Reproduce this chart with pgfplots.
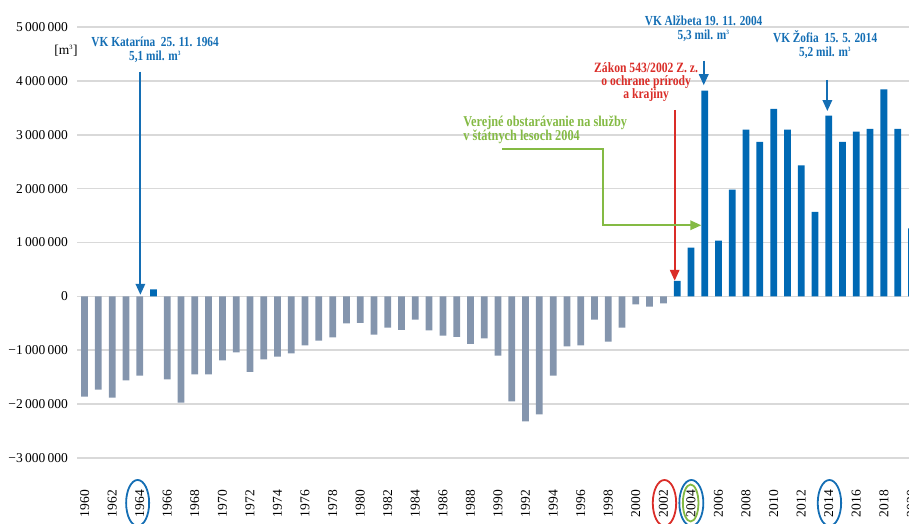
\documentclass[border=0pt]{standalone}
\usepackage{fontspec}
\setmainfont{Liberation Serif}
\newfontfamily\annfont[FakeStretch=0.82]{Liberation Serif}
\usepackage{pgfplots}
\pgfplotsset{compat=1.18}
\usepackage{pgfplotstable}
\usetikzlibrary{arrows.meta}
\definecolor{barGray}{RGB}{132,149,173}
\definecolor{barBlue}{RGB}{0,105,180}
\definecolor{annBlue}{RGB}{20,110,180}
\definecolor{annRed}{RGB}{218,45,40}
\definecolor{annGreen}{RGB}{132,186,68}
\definecolor{gridgray}{RGB}{217,217,217}

\pgfplotstableread{
year value
1960 -1860000
1961 -1730000
1962 -1880000
1963 -1560000
1964 -1470000
1966 -1540000
1967 -1970000
1968 -1450000
1969 -1450000
1970 -1190000
1971 -1040000
1972 -1400000
1973 -1170000
1974 -1120000
1975 -1060000
1976 -910000
1977 -820000
1978 -760000
1979 -500000
1980 -490000
1981 -710000
1982 -580000
1983 -620000
1984 -430000
1985 -630000
1986 -730000
1987 -750000
1988 -880000
1989 -780000
1990 -1100000
1991 -1950000
1992 -2320000
1993 -2190000
1994 -1470000
1995 -930000
1996 -910000
1997 -430000
1998 -840000
1999 -580000
2000 -150000
2001 -190000
2002 -130000
}\negdata

\pgfplotstableread{
year value
1965 130000
2003 290000
2004 905000
2005 3820000
2006 1035000
2007 1980000
2008 3095000
2009 2870000
2010 3480000
2011 3095000
2012 2430000
2013 1570000
2014 3355000
2015 2870000
2016 3060000
2017 3110000
2018 3840000
2019 3110000
2020 1260000
}\posdata

\newcommand{\ann}{\annfont\bfseries\fontsize{13.8}{14}\selectfont}
\newcommand{\annred}{\annfont\bfseries\fontsize{14.2}{15}\selectfont}
\newcommand{\cube}{\textsuperscript{\fontsize{6.5}{6.5}\selectfont 3}}

\begin{document}
\begin{tikzpicture}[ar/.style={line width=1.8pt, -{Triangle[length=11pt,width=9.5pt]}},
  lab/.style={anchor=base, inner sep=0pt}]
\begin{axis}[
  at={(77pt,66pt)}, anchor=south west,
  scale only axis, width=842pt, height=431pt,
  xmin=1959.45, xmax=2020.55,
  ymin=-3000000, ymax=5000000,
  clip=false,
  axis x line*=bottom, axis y line*=left,
  axis line style={draw=none},
  major tick length=0pt,
  scaled y ticks=false,
  ymajorgrids,
  major grid style={draw=gridgray, line width=1.6pt},
  ytick={-3000000,-2000000,-1000000,0,1000000,2000000,3000000,4000000,5000000},
  yticklabels={−3\,000\,000,−2\,000\,000,−1\,000\,000,0,1\,000\,000,2\,000\,000,3\,000\,000,4\,000\,000,5\,000\,000},
  xtick={1960,1962,...,2020},
  xticklabels={1960,1962,1964,1966,1968,1970,1972,1974,1976,1978,1980,1982,1984,1986,1988,1990,1992,1994,1996,1998,2000,2002,2004,2006,2008,2010,2012,2014,2016,2018,2020},
  ticklabel style={font=\fontsize{13.5}{15}\selectfont, inner sep=0pt},
  xticklabel style={rotate=90, anchor=east},
  xticklabel shift=32pt,
  yticklabel shift=9pt,
  ybar, bar width=0.49, bar shift=0pt,
]
\addplot[fill=barGray, draw=none] table[x=year,y=value]{\negdata};
\addplot[fill=barBlue, draw=none] table[x=year,y=value]{\posdata};

% unit label
\node[font=\fontsize{13.5}{15}\selectfont] at (axis cs:1958.66,4555000) {[m\cube]};

% Katarina
\node[lab, text=annBlue, font=\ann] at (axis cs:1965.12,4629000) {VK Katarína\ \ 25. 11. 1964};
\node[lab, text=annBlue, font=\ann] at (axis cs:1965.12,4379000) {5,1 mil. m\cube};
\draw[annBlue, ar] (axis cs:1964.05,4171000) -- (axis cs:1964.05,30000);

% Alzbeta
\node[lab, text=annBlue, font=\ann] at (axis cs:2004.92,5019000) {VK Alžbeta 19. 11. 2004};
\node[lab, text=annBlue, font=\ann] at (axis cs:2004.92,4759000) {5,3 mil. m\cube};
\draw[annBlue, ar] (axis cs:2004.93,4375000) -- (axis cs:2004.93,3920000);

% Zofia
\node[lab, text=annBlue, font=\ann] at (axis cs:2013.74,4703000) {VK Žofia\ \ 15. 5. 2014};
\node[lab, text=annBlue, font=\ann] at (axis cs:2013.74,4453000) {5,2 mil. m\cube};
\draw[annBlue, ar] (axis cs:2013.90,4018000) -- (axis cs:2013.90,3440000);

% Zakon
\node[lab, text=annRed, font=\annred] at (axis cs:2000.75,4147000) {Zákon 543/2002 Z. z.};
\node[lab, text=annRed, font=\annred] at (axis cs:2000.75,3905000) {o ochrane prírody};
\node[lab, text=annRed, font=\annred] at (axis cs:2000.75,3664000) {a krajiny};
\draw[annRed, ar] (axis cs:2002.82,3460000) -- (axis cs:2002.82,290000);

% Verejne obstaravanie
\node[anchor=base west, inner sep=0pt, text=annGreen, font=\annfont\bfseries\fontsize{15}{16}\selectfont] at (axis cs:1987.47,3161000) {Verejné obstarávanie na služby};
\node[anchor=base west, inner sep=0pt, text=annGreen, font=\annfont\bfseries\fontsize{15}{16}\selectfont] at (axis cs:1987.47,2890000) {v štátnych lesoch 2004};
\draw[annGreen, ar] (axis cs:1990.30,2730000) -- (axis cs:1997.63,2730000) -- (axis cs:1997.63,1320000) -- (axis cs:2004.75,1320000);

% ellipses around years
\draw[annBlue, line width=1.8pt] (axis cs:1963.85,-3835000) ellipse [x radius=11.5pt, y radius=23pt];
\draw[annRed, line width=1.8pt] (axis cs:2002.08,-3835000) ellipse [x radius=11.7pt, y radius=23pt];
\draw[annBlue, line width=1.8pt] (axis cs:2004.03,-3835000) ellipse [x radius=12pt, y radius=23pt];
\draw[annGreen, line width=1.8pt] (axis cs:2003.98,-3835000) ellipse [x radius=7.8pt, y radius=18.5pt];
\draw[annBlue, line width=1.8pt] (axis cs:2014.05,-3835000) ellipse [x radius=11.7pt, y radius=23pt];
\end{axis}
\pgfresetboundingbox
\path[use as bounding box] (0,0) rectangle (909pt,524pt);
\end{tikzpicture}
\end{document}
